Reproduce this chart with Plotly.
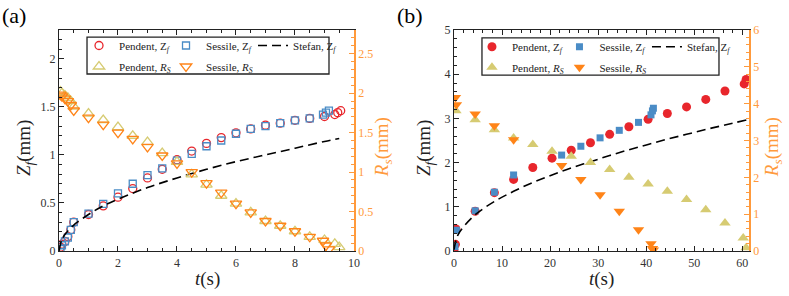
import plotly.graph_objects as go

# ---------------- Panel (a) data ----------------
tA_pend_z = [0.05, 0.1, 0.2, 0.3, 0.4, 0.5, 1, 1.5, 2, 2.5, 3, 3.5, 4, 4.5, 5, 5.5, 6, 6.5, 7, 7.5, 8, 8.5, 9.0, 9.35, 9.45, 9.55]
zA_pend = [0.04, 0.07, 0.1, 0.15, 0.22, 0.3, 0.38, 0.47, 0.56, 0.65, 0.76, 0.85, 0.95, 1.04, 1.12, 1.18, 1.23, 1.27, 1.31, 1.33, 1.36, 1.38, 1.40, 1.42, 1.44, 1.46]

tA_sess_z = [0.05, 0.1, 0.2, 0.3, 0.4, 0.5, 1, 1.5, 2, 2.5, 3, 3.5, 4, 4.5, 5, 5.5, 6, 6.5, 7, 7.5, 8, 8.5, 8.95, 9.05, 9.15]
zA_sess = [0.02, 0.06, 0.1, 0.14, 0.22, 0.3, 0.39, 0.49, 0.6, 0.7, 0.79, 0.86, 0.94, 1.01, 1.09, 1.15, 1.22, 1.27, 1.30, 1.33, 1.36, 1.38, 1.42, 1.44, 1.46]

tA_stefan = [0, 0.1, 0.25, 0.5, 1, 1.5, 2, 3, 4, 5, 6, 7, 8, 9, 9.5]
zA_stefan = [0, 0.12, 0.19, 0.27, 0.38, 0.47, 0.54, 0.66, 0.76, 0.85, 0.93, 1.0, 1.07, 1.14, 1.17]

tA_pend_r = [0.05, 0.1, 0.2, 0.3, 0.4, 0.5, 1, 1.5, 2, 2.5, 3, 3.5, 4, 4.5, 5, 5.5, 6, 6.5, 7, 7.5, 8, 8.5, 9.0, 9.35, 9.5]
rA_pend = [2.02, 2.0, 1.97, 1.94, 1.9, 1.83, 1.74, 1.66, 1.57, 1.46, 1.38, 1.24, 1.13, 0.97, 0.84, 0.70, 0.60, 0.49, 0.38, 0.32, 0.25, 0.18, 0.14, 0.09, 0.05]

tA_sess_r = [0.05, 0.1, 0.2, 0.3, 0.4, 0.5, 1, 1.5, 2, 2.5, 3, 3.5, 4, 4.5, 5, 5.5, 6, 6.5, 7, 7.5, 8, 8.5, 8.95, 9.05, 9.15]
rA_sess = [1.98, 1.96, 1.93, 1.9, 1.85, 1.78, 1.69, 1.60, 1.50, 1.42, 1.32, 1.21, 1.11, 1.0, 0.86, 0.74, 0.60, 0.49, 0.38, 0.32, 0.25, 0.18, 0.13, 0.07, 0.02]

# ---------------- Panel (b) data ----------------
tB_pend_z = [0.0, 0.3, 0.4, 4.4, 8.4, 12.4, 16.4, 20.4, 24.4, 28.4, 32.4, 36.4, 40.4, 44.4, 48.4, 52.4, 56.4, 60.4, 60.8]
zB_pend = [0.0, 0.15, 0.5, 0.9, 1.32, 1.62, 1.89, 2.1, 2.28, 2.45, 2.64, 2.81, 2.98, 3.11, 3.26, 3.43, 3.62, 3.78, 3.88]

tB_sess_z = [0.2, 0.5, 4.4, 8.4, 12.4, 22.4, 26.4, 30.4, 34.4, 38.4, 41.0, 41.3, 41.5]
zB_sess = [0.1, 0.47, 0.91, 1.33, 1.72, 2.17, 2.37, 2.56, 2.73, 2.91, 3.08, 3.17, 3.23]

tB_stefan = [0, 0.5, 1, 2, 4.4, 8.4, 12.4, 16.4, 20.4, 24.4, 28.4, 32.4, 36.4, 40.4, 44.4, 48.4, 52.4, 56.4, 61]
zB_stefan = [0.03, 0.28, 0.4, 0.55, 0.82, 1.12, 1.35, 1.55, 1.72, 1.88, 2.02, 2.16, 2.29, 2.41, 2.53, 2.64, 2.75, 2.85, 2.97]

tB_pend_r = [0.4, 4.4, 8.4, 12.4, 16.4, 20.4, 24.4, 28.4, 32.4, 36.4, 40.4, 44.4, 48.4, 52.4, 56.4, 60.2, 60.8]
rB_pend = [3.81, 3.56, 3.29, 3.07, 2.89, 2.71, 2.57, 2.40, 2.21, 2.0, 1.82, 1.62, 1.40, 1.12, 0.76, 0.35, 0.09]

tB_sess_r = [0.3, 0.5, 4.4, 8.4, 12.4, 22.4, 26.4, 30.4, 34.4, 38.4, 41.0, 41.3, 41.5]
rB_sess = [4.17, 3.97, 3.72, 3.40, 3.02, 2.32, 1.94, 1.53, 1.08, 0.58, 0.2, 0.07, 0.03]

# ---------------- labels ----------------
lab_pend_z = "Pendent, Z<sub><i>f</i></sub>"
lab_sess_z = "Sessile, Z<sub><i>f</i></sub>"
lab_stefan = "Stefan, Z<sub><i>f</i></sub>"
lab_pend_r = "Pendent, <i>R</i><sub><i>S</i></sub>"
lab_sess_r = "Sessile, <i>R</i><sub><i>S</i></sub>"
title_t = "<i>t</i>(s)"
title_z = "<i>Z</i><sub><i>f</i></sub>(mm)"
title_r = "<i>R</i><sub><i>s</i></sub>(mm)"

RED = "#e8262c"
BLUE = "#4a8cc6"
YEL = "#d6cb72"
ORA = "#ff8418"
AXO = "#ff9a3c"
FONT = "Liberation Serif, Times New Roman, DejaVu Serif, serif"

fig = go.Figure()

# Panel (a): open markers
fig.add_trace(go.Scatter(x=tA_pend_z, y=zA_pend, mode="markers", name=lab_pend_z,
                         marker=dict(symbol="circle-open", size=8, color=RED, line=dict(width=1.3)),
                         xaxis="x", yaxis="y", legend="legend"))
fig.add_trace(go.Scatter(x=tA_sess_z, y=zA_sess, mode="markers", name=lab_sess_z,
                         marker=dict(symbol="square-open", size=7, color=BLUE, line=dict(width=1.3)),
                         xaxis="x", yaxis="y", legend="legend"))
fig.add_trace(go.Scatter(x=tA_stefan, y=zA_stefan, mode="lines", name=lab_stefan,
                         line=dict(color="black", width=1.6, dash="9px,5px", shape="spline"),
                         xaxis="x", yaxis="y", legend="legend"))
fig.add_trace(go.Scatter(x=tA_pend_r, y=rA_pend, mode="markers", name=lab_pend_r,
                         marker=dict(symbol="triangle-up-open", size=10, color=YEL, line=dict(width=1.3)),
                         xaxis="x", yaxis="y2", legend="legend2"))
fig.add_trace(go.Scatter(x=tA_sess_r, y=rA_sess, mode="markers", name=lab_sess_r,
                         marker=dict(symbol="triangle-down-open", size=10, color=ORA, line=dict(width=1.3)),
                         xaxis="x", yaxis="y2", legend="legend2"))

# Panel (b): filled markers
fig.add_trace(go.Scatter(x=tB_pend_z, y=zB_pend, mode="markers", name=lab_pend_z,
                         marker=dict(symbol="circle", size=9, color=RED),
                         xaxis="x2", yaxis="y3", legend="legend3"))
fig.add_trace(go.Scatter(x=tB_sess_z, y=zB_sess, mode="markers", name=lab_sess_z,
                         marker=dict(symbol="square", size=7, color=BLUE),
                         xaxis="x2", yaxis="y3", legend="legend3"))
fig.add_trace(go.Scatter(x=tB_stefan, y=zB_stefan, mode="lines", name=lab_stefan,
                         line=dict(color="black", width=1.6, dash="9px,5px", shape="spline"),
                         xaxis="x2", yaxis="y3", legend="legend3"))
fig.add_trace(go.Scatter(x=tB_pend_r, y=rB_pend, mode="markers", name=lab_pend_r,
                         marker=dict(symbol="triangle-up", size=10, color=YEL),
                         xaxis="x2", yaxis="y4", legend="legend4"))
fig.add_trace(go.Scatter(x=tB_sess_r, y=rB_sess, mode="markers", name=lab_sess_r,
                         marker=dict(symbol="triangle-down", size=10, color=ORA),
                         xaxis="x2", yaxis="y4", legend="legend4"))

tickfont = dict(family=FONT, size=12, color="#333")


def xax(domain, rng, dtick, mdtick):
    return dict(domain=domain, range=rng, dtick=dtick, ticks="inside", ticklen=5, tickcolor="#222",
                minor=dict(dtick=mdtick, ticks="inside", ticklen=3, tickcolor="#222"),
                showline=True, linecolor="#222", linewidth=1.3, mirror="ticks", showgrid=False,
                zeroline=False, tickfont=tickfont)


def yleft(anchor, rng, dtick, mdtick):
    return dict(anchor=anchor, range=rng, dtick=dtick, ticks="inside", ticklen=5, tickcolor="#222",
                minor=dict(dtick=mdtick, ticks="inside", ticklen=3, tickcolor="#222"),
                showline=True, linecolor="#222", linewidth=1.3, showgrid=False, zeroline=False,
                tickfont=tickfont)


def yright(anchor, over, rng, dtick, mdtick):
    return dict(anchor=anchor, overlaying=over, side="right", range=rng, dtick=dtick,
                ticks="inside", ticklen=5, tickcolor=AXO,
                minor=dict(dtick=mdtick, ticks="inside", ticklen=3, tickcolor=AXO),
                showline=True, linecolor=AXO, linewidth=1.5, showgrid=False, zeroline=False,
                tickfont=dict(family=FONT, size=12, color=AXO))


def leg(x, y, ew):
    return dict(orientation="h", x=x, y=y, xanchor="left", yanchor="top",
                entrywidth=ew, entrywidthmode="pixels",
                borderwidth=0, bgcolor="rgba(255,255,255,0)",
                font=dict(family=FONT, size=11, color="#222"))


def title_ann(text, x, y, angle, color="#222"):
    return dict(text=text, xref="paper", yref="paper", x=x, y=y, xanchor="center", yanchor="middle",
                textangle=angle, showarrow=False, font=dict(family=FONT, size=19, color=color))


box = dict(type="rect", xref="paper", yref="paper", line=dict(color="#222", width=1.3),
           fillcolor="rgba(0,0,0,0)", layer="above")

fig.update_layout(
    width=789, height=296,
    margin=dict(l=59, r=40, t=30, b=45),
    paper_bgcolor="white", plot_bgcolor="white",
    showlegend=True,
    xaxis=xax([0, 0.4275], [0, 10], 2, 0.5),
    yaxis=yleft("x", [0, 2.3], 0.5, 0.1),
    yaxis2=yright("x", "y", [0, 2.8], 0.5, 0.1),
    xaxis2=xax([0.5725, 1], [0, 61.4], 10, 2),
    yaxis3=yleft("x2", [0, 5], 1, 0.2),
    yaxis4=yright("x2", "y3", [0, 6], 1, 0.2),
    legend=leg(0.029, 0.9955, 42),
    legend2=leg(0.029, 0.9005, 42),
    legend3=leg(0.5985, 0.99, 42.5),
    legend4=leg(0.5985, 0.897, 42.5),
    shapes=[
        dict(box, x0=0.0406, x1=0.3913, y0=0.801, y1=0.968),
        dict(box, x0=0.613, x1=0.9565, y0=0.796, y1=0.964),
    ],
    annotations=[
        dict(text="(a)", xref="paper", yref="paper", x=-0.0855, y=1.0, xanchor="left", yanchor="bottom",
             showarrow=False, font=dict(family=FONT, size=22, color="black")),
        dict(text="(b)", xref="paper", yref="paper", x=0.487, y=1.0, xanchor="left", yanchor="bottom",
             showarrow=False, font=dict(family=FONT, size=22, color="black")),
        title_ann(title_z, -0.0493, 0.47, -90),
        title_ann(title_z, 0.5304, 0.47, -90),
        title_ann(title_r, 0.4696, 0.47, -90, AXO),
        title_ann(title_r, 1.0348, 0.47, -90, AXO),
        title_ann(title_t, 0.2145, -0.1267, 0),
        title_ann(title_t, 0.786, -0.1267, 0),
    ],
)

fig.write_html("out.html", config={"displayModeBar": False},
               post_script="document.body.style.margin='0';")
